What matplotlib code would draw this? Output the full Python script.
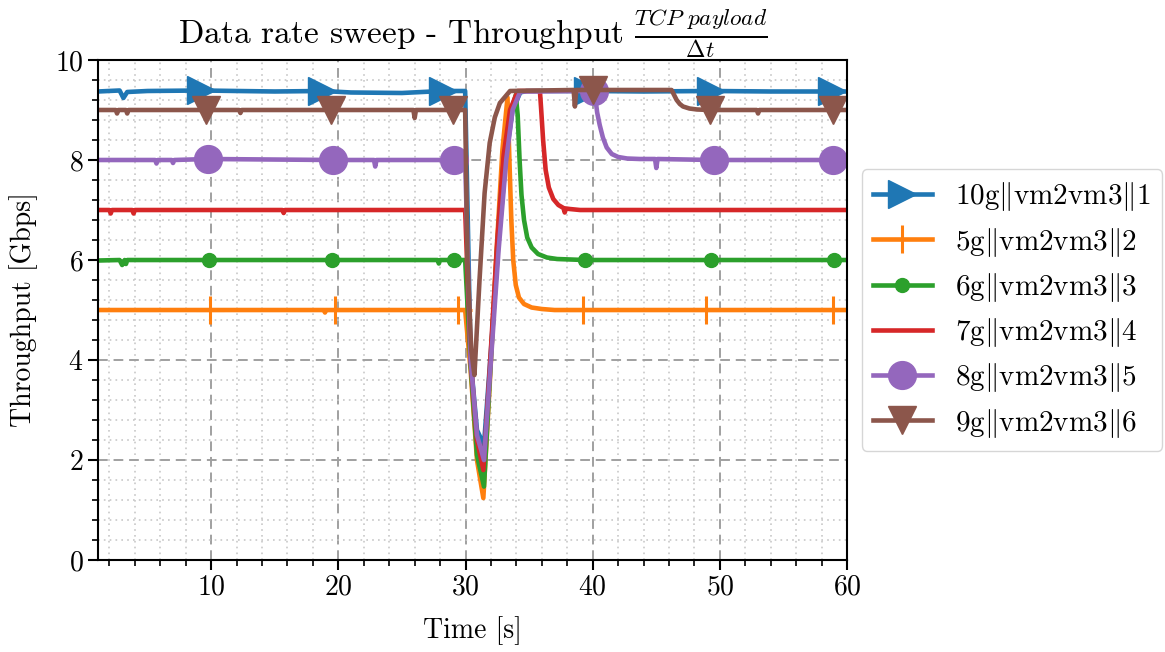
import matplotlib
matplotlib.use('Agg')
import matplotlib.pyplot as plt
from matplotlib.ticker import MultipleLocator

plt.rcParams['font.family'] = 'cmr10'
plt.rcParams['mathtext.fontset'] = 'cm'
plt.rcParams['axes.formatter.use_mathtext'] = True
plt.rcParams['axes.unicode_minus'] = False

# 10g || vm2vm3 || 1
t_10g = [1.1, 2.8, 3.1, 3.4, 5.0, 9.2, 12.0, 15.0, 18.75, 21.0, 25.0, 28.2, 29.97,
         30.4, 30.9, 31.45, 32.0, 32.6, 33.2, 33.7, 34.3, 34.8, 36.0, 39.6, 44.0,
         49.3, 54.0, 58.8, 60.0]
y_10g = [9.37, 9.39, 9.24, 9.36, 9.38, 9.39, 9.38, 9.37, 9.38, 9.35, 9.34, 9.38, 9.38,
         4.0, 2.6, 2.3, 4.2, 6.4, 8.1, 9.0, 9.35, 9.38, 9.38, 9.38, 9.37,
         9.38, 9.37, 9.37, 9.37]
mark_10g = [9.2, 18.75, 28.2, 39.6, 49.3, 58.8]

# 5g || vm2vm3 || 2
t_5g = [1.1, 9.9, 18.9, 18.95, 19.0, 19.7, 29.4, 29.97, 30.4, 30.9, 31.4, 31.9, 32.4,
        32.9, 33.3, 33.45, 33.6, 33.75, 33.95, 34.2, 34.6, 35.2, 36.0, 37.0, 39.2,
        48.9, 58.9, 60.0]
y_5g = [5.0, 5.0, 5.0, 4.95, 5.0, 5.0, 5.0, 5.0, 3.8, 2.0, 1.24, 3.5, 6.0,
        8.2, 9.25, 8.0, 6.8, 6.0, 5.5, 5.25, 5.12, 5.05, 5.02, 5.0, 5.0,
        5.0, 5.0, 5.0]
mark_5g = [9.9, 19.7, 29.4, 39.2, 48.9, 58.9]

# 6g || vm2vm3 || 3
t_6g = [1.1, 2.8, 3.0, 3.2, 3.3, 3.4, 9.8, 19.5, 27.8, 27.9, 28.0, 28.7, 28.8, 28.9,
        29.1, 29.97, 30.4, 30.9, 31.45, 31.9, 32.5, 33.0, 33.5, 33.95, 34.1, 34.25,
        34.4, 34.6, 34.85, 35.2, 35.7, 36.4, 37.2, 39.4, 49.3, 59.0, 60.0]
y_6g = [5.99, 6.0, 5.9, 6.0, 5.92, 6.0, 6.0, 6.0, 6.0, 5.93, 6.0, 6.0, 5.93, 6.0,
        6.0, 6.0, 3.9, 2.1, 1.47, 3.6, 6.3, 8.0, 8.9, 9.3, 8.9, 8.0,
        7.3, 6.8, 6.45, 6.25, 6.12, 6.05, 6.02, 6.0, 6.0, 6.0, 6.0]
mark_6g = [9.8, 19.5, 29.1, 39.4, 49.3, 59.0]

# 7g || vm2vm3 || 4
t_7g = [1.1, 2.0, 2.1, 2.2, 3.8, 3.9, 4.0, 15.6, 15.7, 15.8, 29.97, 30.4, 30.9, 31.4,
        31.9, 32.5, 33.0, 33.5, 34.1, 35.85, 35.95, 36.1, 36.3, 36.55, 36.9, 37.3,
        37.7, 37.8, 37.9, 38.2, 39.0, 50.0, 60.0]
y_7g = [7.0, 7.0, 6.93, 7.0, 7.0, 6.93, 7.0, 7.0, 6.94, 7.0, 7.0, 4.0, 2.4, 1.8,
        3.8, 6.4, 8.1, 9.0, 9.38, 9.38, 9.0, 8.4, 7.8, 7.45, 7.22, 7.1,
        7.04, 6.95, 7.03, 7.02, 7.0, 7.0, 7.0]

# 8g || vm2vm3 || 5
t_8g = [1.1, 5.6, 5.7, 5.8, 6.9, 7.0, 7.1, 9.72, 19.55, 22.8, 22.9, 23.0, 29.1,
        29.97, 30.4, 30.9, 31.45, 32.0, 32.6, 33.2, 33.7, 34.3, 40.1, 40.2, 40.35,
        40.55, 40.8, 41.1, 41.5, 42.0, 42.7, 43.7, 44.9, 45.0, 45.1, 49.5, 58.9, 60.0]
y_8g = [8.0, 8.0, 7.93, 8.0, 8.0, 7.94, 8.0, 8.02, 8.0, 8.0, 7.87, 8.0, 8.0,
        8.0, 4.0, 2.5, 2.0, 4.0, 6.2, 8.0, 9.0, 9.37, 9.38, 9.25, 8.95,
        8.7, 8.45, 8.25, 8.12, 8.06, 8.03, 8.02, 8.02, 7.84, 8.02, 8.0, 8.0, 8.0]
mark_8g = [9.72, 19.55, 29.1, 40.1, 49.5, 58.9]

# 9g || vm2vm3 || 6
t_9g = [1.1, 2.5, 2.6, 2.7, 3.3, 3.4, 3.5, 9.6, 12.2, 12.3, 12.4, 19.4, 25.9, 26.0,
        26.1, 29.05, 29.97, 30.15, 30.45, 30.7, 31.1, 31.5, 31.9, 32.3, 32.7, 33.5,
        38.5, 38.6, 38.7, 40.0, 46.2, 46.4, 46.6, 46.85, 47.1, 47.6, 48.2, 49.2,
        52.9, 53.0, 53.1, 58.9, 60.0]
y_9g = [9.0, 9.0, 8.93, 9.0, 9.0, 8.93, 9.0, 9.0, 9.0, 8.94, 9.0, 9.0, 9.0, 8.84,
        9.0, 9.0, 9.0, 6.0, 4.2, 3.7, 5.6, 7.34, 8.34, 8.85, 9.14, 9.38,
        9.4, 9.07, 9.4, 9.4, 9.4, 9.3, 9.2, 9.12, 9.07, 9.03, 9.01, 9.0,
        9.0, 8.93, 9.0, 9.0, 9.0]
mark_9g = [9.6, 19.4, 29.05, 40.0, 49.2, 58.9]

labels = [r'10g$\Vert$vm2vm3$\Vert$1', r'5g$\Vert$vm2vm3$\Vert$2',
          r'6g$\Vert$vm2vm3$\Vert$3', r'7g$\Vert$vm2vm3$\Vert$4',
          r'8g$\Vert$vm2vm3$\Vert$5', r'9g$\Vert$vm2vm3$\Vert$6']


def idx(t, marks):
    return [t.index(m) for m in marks]


fig = plt.figure(figsize=(11.65, 6.52), dpi=100)
ax = fig.add_axes([0.0841, 0.141, 0.643, 0.767])

lw = 3.3
ms = 20
ax.plot(t_10g, y_10g, color='tab:blue', lw=lw, marker='>', ms=ms,
        markevery=idx(t_10g, mark_10g), label=labels[0])
ax.plot(t_5g, y_5g, color='tab:orange', lw=lw, marker='+', ms=ms, mew=2.2,
        markevery=idx(t_5g, mark_5g), label=labels[1])
ax.plot(t_6g, y_6g, color='tab:green', lw=lw, marker='.', ms=ms,
        markevery=idx(t_6g, mark_6g), label=labels[2])
ax.plot(t_7g, y_7g, color='tab:red', lw=lw, label=labels[3])
ax.plot(t_8g, y_8g, color='tab:purple', lw=lw, marker='o', ms=ms,
        markevery=idx(t_8g, mark_8g), label=labels[4])
ax.plot(t_9g, y_9g, color='tab:brown', lw=lw, marker='v', ms=ms,
        markevery=idx(t_9g, mark_9g), label=labels[5])

ax.set_xlim(1.1, 60)
ax.set_ylim(0, 10)
ax.xaxis.set_major_locator(MultipleLocator(10))
ax.xaxis.set_minor_locator(MultipleLocator(2))
ax.yaxis.set_major_locator(MultipleLocator(2))
ax.yaxis.set_minor_locator(MultipleLocator(0.4))

ax.grid(True, which='major', color='#a0a0a0', linestyle=(0, (5, 3)), lw=1.4)
ax.grid(True, which='minor', color='#c8c8c8', linestyle=(0, (1, 2.5)), lw=1.2)
ax.set_axisbelow(True)

for s in ax.spines.values():
    s.set_linewidth(1.5)
ax.tick_params(which='major', length=7, width=1.5, labelsize=20)
ax.tick_params(which='minor', length=4, width=1.2)

ax.set_xlabel('Time [s]', fontsize=20, labelpad=11)
ax.set_ylabel('Throughput [Gbps]', fontsize=20, labelpad=12)
ax.set_title(r'Data rate sweep - Throughput $\frac{TCP\ payload}{\Delta t}$',
             fontsize=24, pad=6)

ax.legend(loc='center left', bbox_to_anchor=(1.0, 0.5), fontsize=21,
          labelspacing=0.42, edgecolor='#cccccc')

fig.savefig('out.png', dpi=100)
